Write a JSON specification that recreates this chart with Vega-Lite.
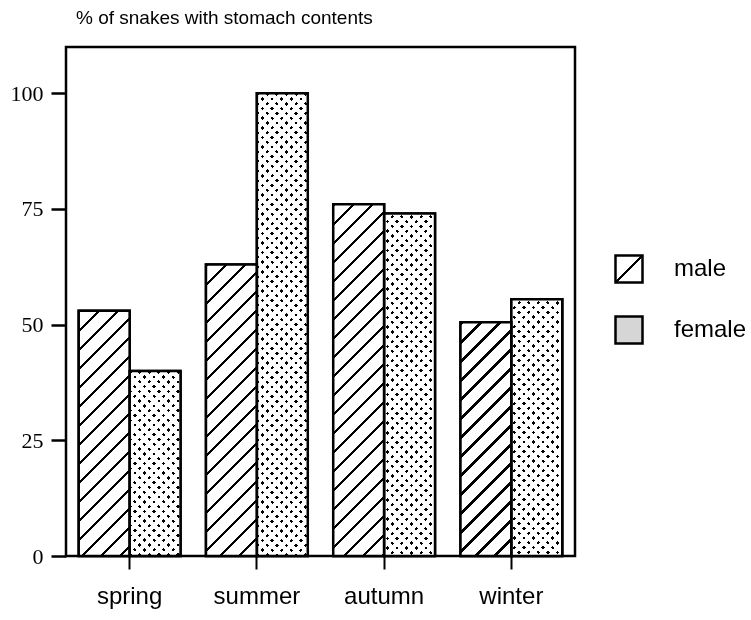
{
 "$schema": "https://vega.github.io/schema/vega-lite/v6.json",
 "width": 509,
 "height": 509,
 "autosize": "none",
 "padding": {"left": 66, "top": 47, "right": 176, "bottom": 64},
 "background": "white",
 "title": {"text": "% of snakes with stomach contents", "anchor": "start", "frame": "group", "font": "Liberation Sans", "fontSize": 19, "fontWeight": "normal", "color": "black", "offset": 19, "dx": 10},
 "params": [
  {"name": "maleStops", "value": [
   {"offset":0,"color":"#000"},{"offset":0.008,"color":"#000"},{"offset":0.008,"color":"#fff"},{"offset":0.0455,"color":"#fff"},
   {"offset":0.0455,"color":"#000"},{"offset":0.0535,"color":"#000"},{"offset":0.0535,"color":"#fff"},{"offset":0.0909,"color":"#fff"},
   {"offset":0.0909,"color":"#000"},{"offset":0.0989,"color":"#000"},{"offset":0.0989,"color":"#fff"},{"offset":0.1364,"color":"#fff"},
   {"offset":0.1364,"color":"#000"},{"offset":0.1444,"color":"#000"},{"offset":0.1444,"color":"#fff"},{"offset":0.1818,"color":"#fff"},
   {"offset":0.1818,"color":"#000"},{"offset":0.1898,"color":"#000"},{"offset":0.1898,"color":"#fff"},{"offset":0.2273,"color":"#fff"},
   {"offset":0.2273,"color":"#000"},{"offset":0.2353,"color":"#000"},{"offset":0.2353,"color":"#fff"},{"offset":0.2727,"color":"#fff"},
   {"offset":0.2727,"color":"#000"},{"offset":0.2807,"color":"#000"},{"offset":0.2807,"color":"#fff"},{"offset":0.3182,"color":"#fff"},
   {"offset":0.3182,"color":"#000"},{"offset":0.3262,"color":"#000"},{"offset":0.3262,"color":"#fff"},{"offset":0.3636,"color":"#fff"},
   {"offset":0.3636,"color":"#000"},{"offset":0.3716,"color":"#000"},{"offset":0.3716,"color":"#fff"},{"offset":0.4091,"color":"#fff"},
   {"offset":0.4091,"color":"#000"},{"offset":0.4171,"color":"#000"},{"offset":0.4171,"color":"#fff"},{"offset":0.4545,"color":"#fff"},
   {"offset":0.4545,"color":"#000"},{"offset":0.4625,"color":"#000"},{"offset":0.4625,"color":"#fff"},{"offset":0.5,"color":"#fff"},
   {"offset":0.5,"color":"#000"},{"offset":0.508,"color":"#000"},{"offset":0.508,"color":"#fff"},{"offset":0.5455,"color":"#fff"},
   {"offset":0.5455,"color":"#000"},{"offset":0.5535,"color":"#000"},{"offset":0.5535,"color":"#fff"},{"offset":0.5909,"color":"#fff"},
   {"offset":0.5909,"color":"#000"},{"offset":0.5989,"color":"#000"},{"offset":0.5989,"color":"#fff"},{"offset":0.6364,"color":"#fff"},
   {"offset":0.6364,"color":"#000"},{"offset":0.6444,"color":"#000"},{"offset":0.6444,"color":"#fff"},{"offset":0.6818,"color":"#fff"},
   {"offset":0.6818,"color":"#000"},{"offset":0.6898,"color":"#000"},{"offset":0.6898,"color":"#fff"},{"offset":0.7273,"color":"#fff"},
   {"offset":0.7273,"color":"#000"},{"offset":0.7353,"color":"#000"},{"offset":0.7353,"color":"#fff"},{"offset":0.7727,"color":"#fff"},
   {"offset":0.7727,"color":"#000"},{"offset":0.7807,"color":"#000"},{"offset":0.7807,"color":"#fff"},{"offset":0.8182,"color":"#fff"},
   {"offset":0.8182,"color":"#000"},{"offset":0.8262,"color":"#000"},{"offset":0.8262,"color":"#fff"},{"offset":0.8636,"color":"#fff"},
   {"offset":0.8636,"color":"#000"},{"offset":0.8716,"color":"#000"},{"offset":0.8716,"color":"#fff"},{"offset":0.9091,"color":"#fff"},
   {"offset":0.9091,"color":"#000"},{"offset":0.9171,"color":"#000"},{"offset":0.9171,"color":"#fff"},{"offset":0.9545,"color":"#fff"},
   {"offset":0.9545,"color":"#000"},{"offset":0.9625,"color":"#000"},{"offset":0.9625,"color":"#fff"},{"offset":1,"color":"#fff"}
  ]},
  {"name": "femStops", "value": [
   {"offset":0,"color":"#000"},{"offset":0.0069,"color":"#000"},{"offset":0.0069,"color":"#fff"},{"offset":0.0185,"color":"#fff"},
   {"offset":0.0185,"color":"#000"},{"offset":0.0254,"color":"#000"},{"offset":0.0254,"color":"#fff"},{"offset":0.037,"color":"#fff"},
   {"offset":0.037,"color":"#000"},{"offset":0.0439,"color":"#000"},{"offset":0.0439,"color":"#fff"},{"offset":0.0556,"color":"#fff"},
   {"offset":0.0556,"color":"#000"},{"offset":0.0625,"color":"#000"},{"offset":0.0625,"color":"#fff"},{"offset":0.0741,"color":"#fff"},
   {"offset":0.0741,"color":"#000"},{"offset":0.081,"color":"#000"},{"offset":0.081,"color":"#fff"},{"offset":0.0926,"color":"#fff"},
   {"offset":0.0926,"color":"#000"},{"offset":0.0995,"color":"#000"},{"offset":0.0995,"color":"#fff"},{"offset":0.1111,"color":"#fff"},
   {"offset":0.1111,"color":"#000"},{"offset":0.118,"color":"#000"},{"offset":0.118,"color":"#fff"},{"offset":0.1296,"color":"#fff"},
   {"offset":0.1296,"color":"#000"},{"offset":0.1365,"color":"#000"},{"offset":0.1365,"color":"#fff"},{"offset":0.1481,"color":"#fff"},
   {"offset":0.1481,"color":"#000"},{"offset":0.155,"color":"#000"},{"offset":0.155,"color":"#fff"},{"offset":0.1667,"color":"#fff"},
   {"offset":0.1667,"color":"#000"},{"offset":0.1736,"color":"#000"},{"offset":0.1736,"color":"#fff"},{"offset":0.1852,"color":"#fff"},
   {"offset":0.1852,"color":"#000"},{"offset":0.1921,"color":"#000"},{"offset":0.1921,"color":"#fff"},{"offset":0.2037,"color":"#fff"},
   {"offset":0.2037,"color":"#000"},{"offset":0.2106,"color":"#000"},{"offset":0.2106,"color":"#fff"},{"offset":0.2222,"color":"#fff"},
   {"offset":0.2222,"color":"#000"},{"offset":0.2291,"color":"#000"},{"offset":0.2291,"color":"#fff"},{"offset":0.2407,"color":"#fff"},
   {"offset":0.2407,"color":"#000"},{"offset":0.2476,"color":"#000"},{"offset":0.2476,"color":"#fff"},{"offset":0.2593,"color":"#fff"},
   {"offset":0.2593,"color":"#000"},{"offset":0.2662,"color":"#000"},{"offset":0.2662,"color":"#fff"},{"offset":0.2778,"color":"#fff"},
   {"offset":0.2778,"color":"#000"},{"offset":0.2847,"color":"#000"},{"offset":0.2847,"color":"#fff"},{"offset":0.2963,"color":"#fff"},
   {"offset":0.2963,"color":"#000"},{"offset":0.3032,"color":"#000"},{"offset":0.3032,"color":"#fff"},{"offset":0.3148,"color":"#fff"},
   {"offset":0.3148,"color":"#000"},{"offset":0.3217,"color":"#000"},{"offset":0.3217,"color":"#fff"},{"offset":0.3333,"color":"#fff"},
   {"offset":0.3333,"color":"#000"},{"offset":0.3402,"color":"#000"},{"offset":0.3402,"color":"#fff"},{"offset":0.3519,"color":"#fff"},
   {"offset":0.3519,"color":"#000"},{"offset":0.3588,"color":"#000"},{"offset":0.3588,"color":"#fff"},{"offset":0.3704,"color":"#fff"},
   {"offset":0.3704,"color":"#000"},{"offset":0.3773,"color":"#000"},{"offset":0.3773,"color":"#fff"},{"offset":0.3889,"color":"#fff"},
   {"offset":0.3889,"color":"#000"},{"offset":0.3958,"color":"#000"},{"offset":0.3958,"color":"#fff"},{"offset":0.4074,"color":"#fff"},
   {"offset":0.4074,"color":"#000"},{"offset":0.4143,"color":"#000"},{"offset":0.4143,"color":"#fff"},{"offset":0.4259,"color":"#fff"},
   {"offset":0.4259,"color":"#000"},{"offset":0.4328,"color":"#000"},{"offset":0.4328,"color":"#fff"},{"offset":0.4444,"color":"#fff"},
   {"offset":0.4444,"color":"#000"},{"offset":0.4513,"color":"#000"},{"offset":0.4513,"color":"#fff"},{"offset":0.463,"color":"#fff"},
   {"offset":0.463,"color":"#000"},{"offset":0.4699,"color":"#000"},{"offset":0.4699,"color":"#fff"},{"offset":0.4815,"color":"#fff"},
   {"offset":0.4815,"color":"#000"},{"offset":0.4884,"color":"#000"},{"offset":0.4884,"color":"#fff"},{"offset":0.5,"color":"#fff"},
   {"offset":0.5,"color":"#000"},{"offset":0.5069,"color":"#000"},{"offset":0.5069,"color":"#fff"},{"offset":0.5185,"color":"#fff"},
   {"offset":0.5185,"color":"#000"},{"offset":0.5254,"color":"#000"},{"offset":0.5254,"color":"#fff"},{"offset":0.537,"color":"#fff"},
   {"offset":0.537,"color":"#000"},{"offset":0.5439,"color":"#000"},{"offset":0.5439,"color":"#fff"},{"offset":0.5556,"color":"#fff"},
   {"offset":0.5556,"color":"#000"},{"offset":0.5625,"color":"#000"},{"offset":0.5625,"color":"#fff"},{"offset":0.5741,"color":"#fff"},
   {"offset":0.5741,"color":"#000"},{"offset":0.581,"color":"#000"},{"offset":0.581,"color":"#fff"},{"offset":0.5926,"color":"#fff"},
   {"offset":0.5926,"color":"#000"},{"offset":0.5995,"color":"#000"},{"offset":0.5995,"color":"#fff"},{"offset":0.6111,"color":"#fff"},
   {"offset":0.6111,"color":"#000"},{"offset":0.618,"color":"#000"},{"offset":0.618,"color":"#fff"},{"offset":0.6296,"color":"#fff"},
   {"offset":0.6296,"color":"#000"},{"offset":0.6365,"color":"#000"},{"offset":0.6365,"color":"#fff"},{"offset":0.6481,"color":"#fff"},
   {"offset":0.6481,"color":"#000"},{"offset":0.655,"color":"#000"},{"offset":0.655,"color":"#fff"},{"offset":0.6667,"color":"#fff"},
   {"offset":0.6667,"color":"#000"},{"offset":0.6736,"color":"#000"},{"offset":0.6736,"color":"#fff"},{"offset":0.6852,"color":"#fff"},
   {"offset":0.6852,"color":"#000"},{"offset":0.6921,"color":"#000"},{"offset":0.6921,"color":"#fff"},{"offset":0.7037,"color":"#fff"},
   {"offset":0.7037,"color":"#000"},{"offset":0.7106,"color":"#000"},{"offset":0.7106,"color":"#fff"},{"offset":0.7222,"color":"#fff"},
   {"offset":0.7222,"color":"#000"},{"offset":0.7291,"color":"#000"},{"offset":0.7291,"color":"#fff"},{"offset":0.7407,"color":"#fff"},
   {"offset":0.7407,"color":"#000"},{"offset":0.7476,"color":"#000"},{"offset":0.7476,"color":"#fff"},{"offset":0.7593,"color":"#fff"},
   {"offset":0.7593,"color":"#000"},{"offset":0.7662,"color":"#000"},{"offset":0.7662,"color":"#fff"},{"offset":0.7778,"color":"#fff"},
   {"offset":0.7778,"color":"#000"},{"offset":0.7847,"color":"#000"},{"offset":0.7847,"color":"#fff"},{"offset":0.7963,"color":"#fff"},
   {"offset":0.7963,"color":"#000"},{"offset":0.8032,"color":"#000"},{"offset":0.8032,"color":"#fff"},{"offset":0.8148,"color":"#fff"},
   {"offset":0.8148,"color":"#000"},{"offset":0.8217,"color":"#000"},{"offset":0.8217,"color":"#fff"},{"offset":0.8333,"color":"#fff"},
   {"offset":0.8333,"color":"#000"},{"offset":0.8402,"color":"#000"},{"offset":0.8402,"color":"#fff"},{"offset":0.8519,"color":"#fff"},
   {"offset":0.8519,"color":"#000"},{"offset":0.8588,"color":"#000"},{"offset":0.8588,"color":"#fff"},{"offset":0.8704,"color":"#fff"},
   {"offset":0.8704,"color":"#000"},{"offset":0.8773,"color":"#000"},{"offset":0.8773,"color":"#fff"},{"offset":0.8889,"color":"#fff"},
   {"offset":0.8889,"color":"#000"},{"offset":0.8958,"color":"#000"},{"offset":0.8958,"color":"#fff"},{"offset":0.9074,"color":"#fff"},
   {"offset":0.9074,"color":"#000"},{"offset":0.9143,"color":"#000"},{"offset":0.9143,"color":"#fff"},{"offset":0.9259,"color":"#fff"},
   {"offset":0.9259,"color":"#000"},{"offset":0.9328,"color":"#000"},{"offset":0.9328,"color":"#fff"},{"offset":0.9444,"color":"#fff"},
   {"offset":0.9444,"color":"#000"},{"offset":0.9513,"color":"#000"},{"offset":0.9513,"color":"#fff"},{"offset":0.963,"color":"#fff"},
   {"offset":0.963,"color":"#000"},{"offset":0.9699,"color":"#000"},{"offset":0.9699,"color":"#fff"},{"offset":0.9815,"color":"#fff"},
   {"offset":0.9815,"color":"#000"},{"offset":0.9884,"color":"#000"},{"offset":0.9884,"color":"#fff"},{"offset":1,"color":"#fff"}
  ]},
  {"name": "legMale", "value": {"gradient": "linear", "x1": 0, "y1": 0, "x2": 1, "y2": 1, "stops": [
   {"offset":0,"color":"#fff"},{"offset":0.465,"color":"#fff"},{"offset":0.465,"color":"#000"},{"offset":0.535,"color":"#000"},{"offset":0.535,"color":"#fff"},{"offset":1,"color":"#fff"}
  ]}}
 ],
 "data": {"values": [
  {"season": "spring", "sex": "male", "pct": 53},
  {"season": "spring", "sex": "female", "pct": 40},
  {"season": "summer", "sex": "male", "pct": 63},
  {"season": "summer", "sex": "female", "pct": 100},
  {"season": "autumn", "sex": "male", "pct": 76},
  {"season": "autumn", "sex": "female", "pct": 74},
  {"season": "winter", "sex": "male", "pct": 50.5},
  {"season": "winter", "sex": "female", "pct": 55.5}
 ]},
 "encoding": {
  "x": {"field": "season", "type": "nominal",
        "scale": {"domain": ["spring", "summer", "autumn", "winter"], "paddingInner": 0.2, "paddingOuter": 0.1},
        "axis": {"title": null, "domain": false, "grid": false, "labelAngle": 0, "tickSize": 13, "tickWidth": 2, "tickColor": "black",
                 "labelFont": "Liberation Sans", "labelFontSize": 24, "labelColor": "black", "labelPadding": 15}},
  "xOffset": {"field": "sex", "type": "nominal", "scale": {"domain": ["male", "female"]}},
  "y": {"field": "pct", "type": "quantitative",
        "scale": {"domain": [0, 110], "nice": false},
        "axis": {"title": null, "domain": false, "grid": false, "values": [0, 25, 50, 75, 100], "tickSize": 15, "tickWidth": 2.5, "tickColor": "black",
                 "labelFont": "Liberation Serif", "labelFontSize": 22, "labelColor": "black", "labelPadding": 8}}
 },
 "layer": [
  {"mark": {"type": "bar", "stroke": "black", "strokeWidth": 2.5},
   "encoding": {
    "fill": {"field": "sex", "type": "nominal",
             "scale": {"domain": ["male", "female"], "range": [{"expr": "legMale"}, "#d6d6d6"]},
             "legend": {"title": null, "orient": "none", "legendX": 548, "legendY": 207, "padding": 0,
                        "symbolType": "square", "symbolSize": 729, "symbolStrokeWidth": 2.5, "symbolStrokeColor": "black", "symbolOpacity": 1,
                        "labelFont": "Liberation Sans", "labelFontSize": 24, "labelColor": "black", "labelOffset": 30, "rowPadding": 23}}
   }},
  {"transform": [{"filter": "datum.sex === 'female'"}],
   "mark": {"type": "bar", "strokeWidth": 0,
            "fill": {"expr": "{gradient:'linear',x1:0,y1:1,x2:518.4*bandwidth('xOffset')/(pow(bandwidth('xOffset'),2)+pow(scale('y',0)-scale('y',datum.pct),2)),y2:1-518.4*(scale('y',0)-scale('y',datum.pct))/(pow(bandwidth('xOffset'),2)+pow(scale('y',0)-scale('y',datum.pct),2)),stops:femStops}"}}},
  {"transform": [{"filter": "datum.sex === 'female'"}],
   "mark": {"type": "bar", "strokeWidth": 0, "blend": "lighten",
            "fill": {"expr": "{gradient:'linear',x1:0,y1:0,x2:518.4*bandwidth('xOffset')/(pow(bandwidth('xOffset'),2)+pow(scale('y',0)-scale('y',datum.pct),2)),y2:518.4*(scale('y',0)-scale('y',datum.pct))/(pow(bandwidth('xOffset'),2)+pow(scale('y',0)-scale('y',datum.pct),2)),stops:femStops}"}}},
  {"mark": {"type": "bar", "strokeWidth": 2.5, "stroke": "black",
            "fill": {"expr": "datum.sex === 'male' ? {gradient:'linear',x1:0,y1:0,x2:418*bandwidth('xOffset')/(pow(bandwidth('xOffset'),2)+pow(scale('y',0)-scale('y',datum.pct),2)),y2:418*(scale('y',0)-scale('y',datum.pct))/(pow(bandwidth('xOffset'),2)+pow(scale('y',0)-scale('y',datum.pct),2)),stops:maleStops} : 'transparent'"}}}
 ],
 "config": {
  "view": {"stroke": "black", "strokeWidth": 2.5},
  "axis": {"labelColor": "black"}
 }
}
